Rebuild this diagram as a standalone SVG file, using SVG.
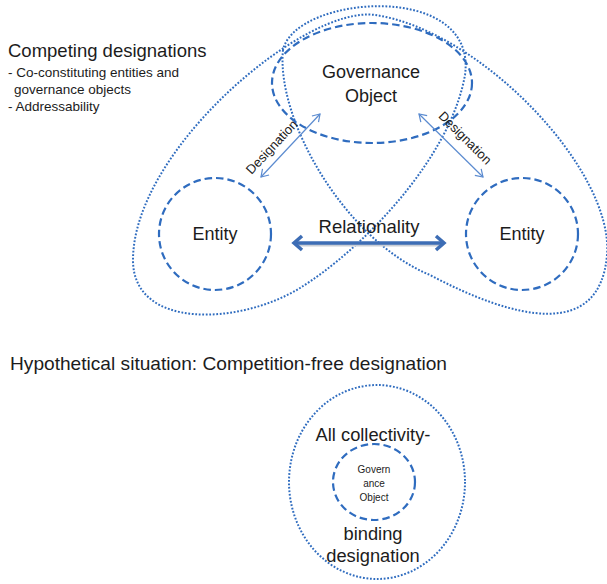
<svg xmlns="http://www.w3.org/2000/svg" width="607" height="584" viewBox="0 0 607 584">
  <style>
    .txt { font-family: "Liberation Sans", Arial, sans-serif; fill: #1c1c1c; }
    .dash { fill: none; stroke: #2f6cbf; stroke-width: 2.2; stroke-dasharray: 7.5 4; }
    .dot { fill: none; stroke: #2f6cbf; stroke-width: 2; stroke-dasharray: 1.8 1.7; }
    .thin { fill: none; stroke: #5b8bd0; stroke-width: 1.2; }
    .thick { fill: none; stroke: #3d6db5; stroke-width: 3.5; }
  </style>
  <defs>
    <marker id="chev-thin" markerUnits="userSpaceOnUse" markerWidth="12" markerHeight="12" viewBox="0 0 12 12" refX="9" refY="6" orient="auto-start-reverse">
      <path d="M 2,1.5 L 9,6 L 2,10.5" fill="none" stroke="#5b8bd0" stroke-width="1.2"/>
    </marker>
    <marker id="chev-thick" markerUnits="userSpaceOnUse" markerWidth="16" markerHeight="18" viewBox="0 0 16 18" refX="12" refY="9" orient="auto-start-reverse">
      <path d="M 4,2 L 12,9 L 4,16" fill="none" stroke="#3d6db5" stroke-width="3.5" stroke-linejoin="miter"/>
    </marker>
  </defs>

  <!-- heading and notes -->
  <g id="notes">
    <text class="txt" x="8" y="57" font-size="18.5">Competing designations</text>
    <text class="txt" x="8" y="77" font-size="13.5">- Co-constituting entities and</text>
    <text class="txt" x="14" y="94" font-size="13.5">governance objects</text>
    <text class="txt" x="8" y="111" font-size="13.5">- Addressability</text>
  </g>

  <!-- overlapping dotted boundary around the three nodes -->
  <g id="boundary">
    <path class="dot" d="M 283,50 C 276,120 345,240 430,275 C 515,320 600,340 607,255 C 614,170 480,30 375,15 C 305,5 133,150 133,260 C 133,330 240,325 300,288 C 360,251 450,160 465,75 C 478,-20 295,-5 283,50 Z"/>
  </g>

  <g id="governance-object">
    <ellipse class="dash" cx="372" cy="83" rx="100" ry="60"/>
    <text class="txt" x="371" y="78" font-size="18" text-anchor="middle">Governance</text>
    <text class="txt" x="371" y="102" font-size="18" text-anchor="middle">Object</text>
  </g>

  <g id="entity-left">
    <circle class="dash" cx="215" cy="234" r="56"/>
    <text class="txt" x="215" y="240" font-size="18" text-anchor="middle">Entity</text>
  </g>

  <g id="entity-right">
    <circle class="dash" cx="522" cy="234" r="56"/>
    <text class="txt" x="522" y="240" font-size="18" text-anchor="middle">Entity</text>
  </g>

  <g id="connectors">
    <line class="thin" x1="320" y1="114" x2="261" y2="177" marker-start="url(#chev-thin)" marker-end="url(#chev-thin)"/>
    <line class="thin" x1="419" y1="114" x2="483" y2="177" marker-start="url(#chev-thin)" marker-end="url(#chev-thin)"/>
    <line x1="296" y1="245" x2="442" y2="245" stroke="#c9ced6" stroke-width="3"/>
    <line class="thick" x1="294" y1="243" x2="444" y2="243" marker-start="url(#chev-thick)" marker-end="url(#chev-thick)"/>
    <text class="txt" font-size="13" text-anchor="middle" transform="translate(275,150) rotate(-47)">Designation</text>
    <text class="txt" font-size="13" text-anchor="middle" transform="translate(462,141) rotate(45)">Designation</text>
    <text class="txt" x="369" y="233" font-size="18.5" text-anchor="middle">Relationality</text>
  </g>

  <g id="hypothetical-title">
    <text class="txt" x="10" y="370" font-size="18.5" textLength="437" lengthAdjust="spacingAndGlyphs">Hypothetical situation: Competition-free designation</text>
  </g>

  <g id="binding-designation">
    <ellipse class="dot" cx="377" cy="482" rx="88" ry="97"/>
    <text class="txt" x="373" y="441" font-size="18.3" text-anchor="middle">All collectivity-</text>
    <text class="txt" x="373" y="540" font-size="18.3" text-anchor="middle">binding</text>
    <text class="txt" x="373" y="562" font-size="18.3" text-anchor="middle">designation</text>
  </g>

  <g id="governance-object-inner">
    <ellipse class="dash" cx="374" cy="482" rx="41" ry="38"/>
    <text class="txt" x="374" y="473" font-size="10" text-anchor="middle">Govern</text>
    <text class="txt" x="374" y="487" font-size="10" text-anchor="middle">ance</text>
    <text class="txt" x="374" y="501" font-size="10" text-anchor="middle">Object</text>
  </g>
</svg>
